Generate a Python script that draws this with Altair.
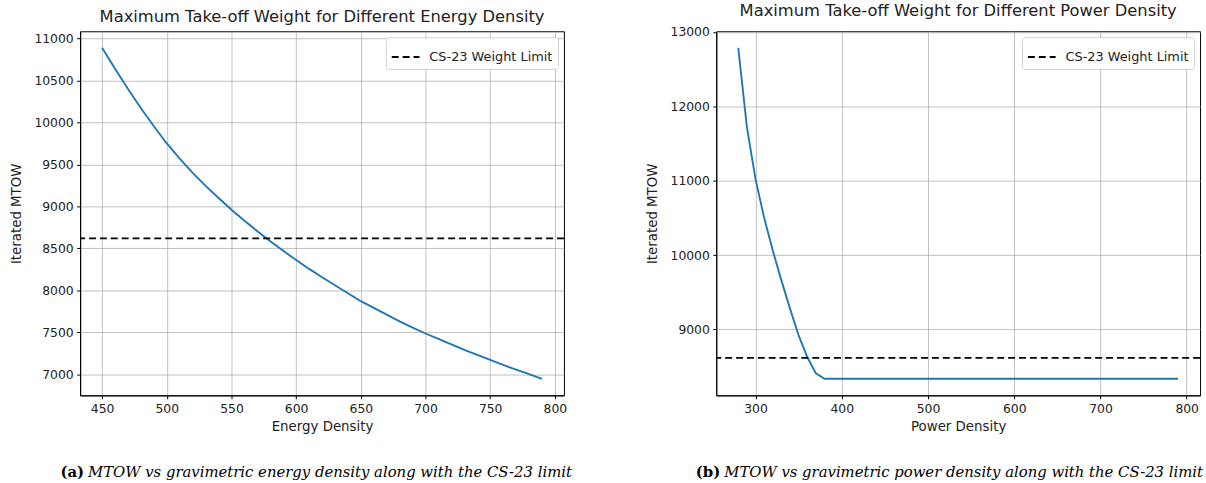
import altair as alt
import pandas as pd

# ---- data ----
energy_density = [450, 460, 470, 480, 490, 500, 510, 520, 530, 540, 550, 560, 570, 580,
                  590, 600, 610, 620, 630, 640, 650, 660, 670, 680, 690, 700, 710, 720,
                  730, 740, 750, 760, 770, 780, 790]
mtow_energy = [10890, 10640, 10400, 10170, 9955, 9750, 9570, 9400, 9245, 9100, 8960,
               8830, 8705, 8585, 8470, 8360, 8255, 8155, 8060, 7965, 7870, 7790, 7710,
               7630, 7555, 7485, 7420, 7355, 7290, 7230, 7170, 7110, 7055, 7000, 6945]

power_density = [280, 290, 300, 310, 320, 330, 340, 350, 360, 370, 380, 390, 400, 410,
                 420, 430, 440, 450, 460, 470, 480, 490, 500, 510, 520, 530, 540, 550,
                 560, 570, 580, 590, 600, 610, 620, 630, 640, 650, 660, 670, 680, 690,
                 700, 710, 720, 730, 740, 750, 760, 770, 780, 790]
mtow_power = [12785, 11720, 11020, 10500, 10060, 9660, 9280, 8920, 8630, 8410, 8337,
              8337, 8337, 8337, 8337, 8337, 8337, 8337, 8337, 8337, 8337, 8337, 8337,
              8337, 8337, 8337, 8337, 8337, 8337, 8337, 8337, 8337, 8337, 8337, 8337,
              8337, 8337, 8337, 8337, 8337, 8337, 8337, 8337, 8337, 8337, 8337, 8337,
              8337, 8337, 8337, 8337, 8337]

cs23_limit = 8618
legend_label = "CS-23 Weight Limit"

energy_xticks = [450, 500, 550, 600, 650, 700, 750, 800]
energy_yticks = [7000, 7500, 8000, 8500, 9000, 9500, 10000, 10500, 11000]
power_xticks = [300, 400, 500, 600, 700, 800]
power_yticks = [9000, 10000, 11000, 12000, 13000]

titles = ["Maximum Take-off Weight for Different Energy Density",
          "Maximum Take-off Weight for Different Power Density"]
x_titles = ["Energy Density", "Power Density"]
y_title = "Iterated MTOW"
caption_tags = ["(a)", "(b)"]
caption_texts = ["MTOW vs gravimetric energy density along with the CS-23 limit",
                 "MTOW vs gravimetric power density along with the CS-23 limit"]

W, H = 489, 368
TEXT = "#222222"


def padded(vals, frac=0.05):
    lo, hi = min(vals), max(vals)
    r = hi - lo
    return [lo - frac * r, hi + frac * r]


def panel(xs, ys, xticks, yticks, title, xtitle, tag, caption):
    df = pd.DataFrame({"x": xs, "y": ys})
    limit_df = pd.DataFrame({"y": [cs23_limit], "label": [legend_label]})
    cap_df = pd.DataFrame({"tag": [tag], "caption": [caption]})

    xenc = alt.X("x:Q", scale=alt.Scale(domain=padded(xs), nice=False, zero=False),
                 axis=alt.Axis(values=xticks, title=xtitle, format="d"))
    yenc = alt.Y("y:Q", scale=alt.Scale(domain=padded(ys), nice=False, zero=False),
                 axis=alt.Axis(values=yticks, title=y_title, format="d"))

    line = alt.Chart(df).mark_line(color="#1f77b4", strokeWidth=1.9, clip=True).encode(
        x=xenc, y=yenc)

    rule = alt.Chart(limit_df).mark_rule(color="black", strokeWidth=1.8).encode(
        y=alt.Y("y:Q"),
        strokeDash=alt.StrokeDash(
            "label:N",
            scale=alt.Scale(domain=[legend_label], range=[[7, 4]]),
            legend=alt.Legend(
                title=None, orient="top-right", offset=6, padding=5,
                fillColor="white", strokeColor="#d0d0d0", cornerRadius=3,
                symbolType="stroke", symbolSize=784, symbolStrokeWidth=1.8,
                symbolStrokeColor="black", symbolDash=[7, 4],
                labelFont="DejaVu Sans", labelFontSize=13, labelColor=TEXT,
                labelOffset=9,
            ),
        ),
    )

    tag_text = alt.Chart(cap_df).mark_text(
        font="DejaVu Serif", fontWeight="bold", fontSize=15, align="right",
        baseline="middle", color="black").encode(
        x=alt.value(4), y=alt.value(H + 78), text="tag:N")
    cap_text = alt.Chart(cap_df).mark_text(
        font="DejaVu Serif", fontStyle="italic", fontSize=15, align="left",
        baseline="middle", color="black").encode(
        x=alt.value(8), y=alt.value(H + 78), text="caption:N")

    return alt.layer(line, rule, tag_text, cap_text).properties(
        width=W, height=H,
        title=alt.TitleParams(title, anchor="middle", fontSize=16.5, font="DejaVu Sans",
                              fontWeight="normal", color=TEXT, offset=6),
    ).resolve_scale(strokeDash="independent")


left = panel(energy_density, mtow_energy, energy_xticks, energy_yticks,
             titles[0], x_titles[0], caption_tags[0], caption_texts[0])
right = panel(power_density, mtow_power, power_xticks, power_yticks,
              titles[1], x_titles[1], caption_tags[1], caption_texts[1])

chart = alt.hconcat(left, right, spacing=72).resolve_scale(
    strokeDash="independent").resolve_legend(strokeDash="independent").properties(
    padding={"left": 8, "top": 0, "right": 2, "bottom": 2},
    background="white",
).configure_view(stroke="black", strokeWidth=1).configure_axis(
    labelFont="DejaVu Sans", labelFontSize=12.5, labelColor=TEXT,
    titleFont="DejaVu Sans", titleFontSize=13.5, titleFontWeight="normal", titleColor=TEXT,
    domainColor="black", domainWidth=1, tickColor="black", tickSize=3.5, tickWidth=1,
    labelPadding=3.5, titlePadding=11, gridColor="#b0b0b0", gridWidth=0.8,
).configure_axisX(titlePadding=5)

chart.save("out.html", embed_options={"renderer": "svg", "actions": False})
